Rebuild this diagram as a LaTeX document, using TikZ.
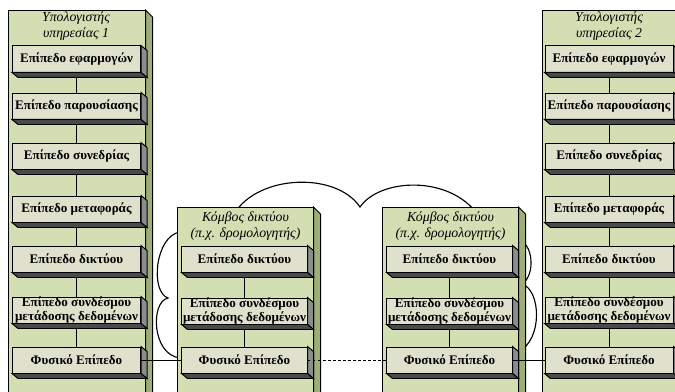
\documentclass[tikz,border=0pt]{standalone}
\usepackage{fontspec}
\setmainfont{Liberation Serif}
\usetikzlibrary{calc}
\definecolor{colgreen}{HTML}{D3DFB3}
\definecolor{colside}{HTML}{9DAE78}
\definecolor{layerfill}{HTML}{DFE1CD}
\definecolor{layerside}{HTML}{8C8C8C}
\definecolor{layerbottom}{HTML}{4A4A4A}
% faces of the 3d boxes
\newcommand{\layerfaces}[1]{%
  \filldraw[fill=layerside] (#1.north east) -- ++(6,5) -- ($(#1.south east)+(6,5)$) -- (#1.south east) -- cycle;
  \filldraw[fill=layerbottom] (#1.south west) -- ++(6,5) -- ($(#1.south east)+(6,5)$) -- (#1.south east) -- cycle;}
\newcommand{\colfaces}[1]{%
  \filldraw[fill=colside] (#1.north east) -- ++(7,7) -- ($(#1.south east)+(7,0)$) -- (#1.south east) -- cycle;}
\begin{document}
\begin{tikzpicture}[x=0.025cm, y=-0.025cm, line width=0.7pt,
    stackcol/.style={draw, fill=colgreen, anchor=north, minimum width=3.4cm, minimum height=10.5cm},
    layerbox/.style={draw, fill=layerfill, minimum width=3.2cm, minimum height=0.65cm, inner sep=0pt, align=center, font=\bfseries\fontsize{9.3}{9.6}\selectfont},
    coltitle/.style={align=center, font=\itshape\fontsize{9.8}{11}\selectfont},
    wire/.style={draw, line width=0.7pt},
    cloudline/.style={draw, line width=0.8pt}]
    \useasboundingbox (0,0) rectangle (675,392);
    \clip (0,0) rectangle (675,392);

    % cloud behind the routers
    \path[cloudline] (180,232) .. controls (155,236) and (150,292) .. (168,298)
        .. controls (150,302) and (152,355) .. (180,358);
    \path[cloudline] (232,218) .. controls (252,175) and (335,170) .. (360,207)
        .. controls (380,178) and (450,175) .. (478,215);
    \path[cloudline] (518,240) .. controls (533,242) and (536,275) .. (522,284)
        .. controls (541,290) and (543,340) .. (518,352);

    % columns
    \node[stackcol] (host1) at (77,10) {};
    \node[stackcol] (host2) at (610,10) {};
    \node[stackcol, minimum width=3.375cm, minimum height=9cm] (rout1) at (245.5,207) {};
    \node[stackcol, minimum width=3.375cm, minimum height=9cm] (rout2) at (450.5,207) {};
    \foreach \c in {host1,host2,rout1,rout2} {\colfaces{\c}}

    \node[coltitle] (t1) at (76,26) {Υπολογιστής\\υπηρεσίας 1};
    \node[coltitle] (t2) at (609,26) {Υπολογιστής\\υπηρεσίας 2};
    \node[coltitle] (t3) at (245.5,226) {Κόμβος δικτύου\\(π.χ. δρομολογητής)};
    \node[coltitle] (t4) at (450.5,226) {Κόμβος δικτύου\\(π.χ. δρομολογητής)};

    % protocol stacks of the hosts
    \foreach \h/\xx in {h1/76.5, h2/609} {
      \node[layerbox] (\h app) at (\xx,59) {Επίπεδο εφαρμογών};
      \node[layerbox] (\h pres) at (\xx,106) {Επίπεδο παρουσίασης};
      \node[layerbox] (\h sess) at (\xx,156) {Επίπεδο συνεδρίας};
      \node[layerbox] (\h trans) at (\xx,209) {Επίπεδο μεταφοράς};
      \node[layerbox] (\h net) at (\xx,259) {Επίπεδο δικτύου};
      \node[layerbox] (\h dl) at (\xx,310) {Επίπεδο συνδέσμου\\μετάδοσης δεδομένων};
      \node[layerbox] (\h phys) at (\xx,360) {Φυσικό Επίπεδο};
      \path[wire] (\h app) edge (\h pres) (\h pres) edge (\h sess) (\h sess) edge (\h trans)
        (\h trans) edge (\h net) (\h net) edge (\h dl) (\h dl) edge (\h phys);
      \foreach \l in {app,pres,sess,trans,net,dl,phys} {\layerfaces{\h\l}}
    }

    % routers
    \foreach \r/\xx in {r1/244.5, r2/449.5} {
      \node[layerbox, minimum width=3.125cm] (\r net) at (\xx,259) {Επίπεδο δικτύου};
      \node[layerbox, minimum width=3.125cm] (\r dl) at (\xx,311) {Επίπεδο συνδέσμου\\μετάδοσης δεδομένων};
      \node[layerbox, minimum width=3.125cm] (\r phys) at (\xx,360) {Φυσικό Επίπεδο};
      \path[wire] (\r net) edge (\r dl) (\r dl) edge (\r phys);
      \foreach \l in {net,dl,phys} {\layerfaces{\r\l}}
    }

    % physical links
    \path[wire] (h1phys) edge (r1phys);
    \path[wire, dash pattern=on 2pt off 1.6pt] (r1phys) edge (r2phys);
    \path[wire] (r2phys) edge (h2phys);
\end{tikzpicture}
\end{document}
